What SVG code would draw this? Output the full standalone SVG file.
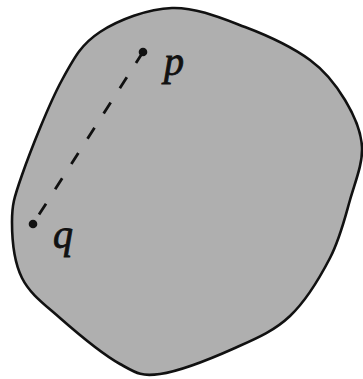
<svg xmlns="http://www.w3.org/2000/svg" width="363" height="379" viewBox="0 0 363 379">
<style>
.region{fill:#afafaf;stroke:#111;stroke-width:2.6;stroke-linejoin:round}
.pt{fill:#111}
.lbl{font-family:"Liberation Serif","Times New Roman",serif;font-style:italic;font-size:40px;fill:#111;stroke:#111;stroke-width:0.8}
.seg{stroke:#111;stroke-width:2.8;stroke-dasharray:13 17;fill:none}
</style>
<rect width="363" height="379" fill="#fff"/>
<g id="region">
<path class="region" d="M172,8 C196.2,7.2 222,18.3 245,27 C268,35.7 293.3,47.8 310,60 C326.7,72.2 336.3,85.5 345,100 C353.7,114.5 361.2,130.3 362,147 C362.8,163.7 355.3,181.5 350,200 C344.7,218.5 340,238.7 330,258 C320,277.3 305.8,301 290,316 C274.2,331 256.7,338.3 235,348 C213.3,357.7 179.2,371.3 160,374 C140.8,376.7 136.7,373.3 120,364 C103.3,354.7 76.3,332.3 60,318 C43.7,303.7 30,294 22,278 C14,262 12,239.2 12,222 C12,204.8 13.7,198.7 22,175 C30.3,151.3 49,103.8 62,80 C75,56.2 81.7,44 100,32 C118.3,20 147.8,8.8 172,8 Z"/>
</g>
<g id="connectors">
<line class="seg" x1="143" y1="52" x2="33" y2="224"/>
</g>
<g id="p">
<circle class="pt" cx="143" cy="52" r="4.3"/>
<text class="lbl" x="164" y="75">p</text>
</g>
<g id="q">
<circle class="pt" cx="33" cy="224" r="4.3"/>
<text class="lbl" x="53" y="248">q</text>
</g>
</svg>
